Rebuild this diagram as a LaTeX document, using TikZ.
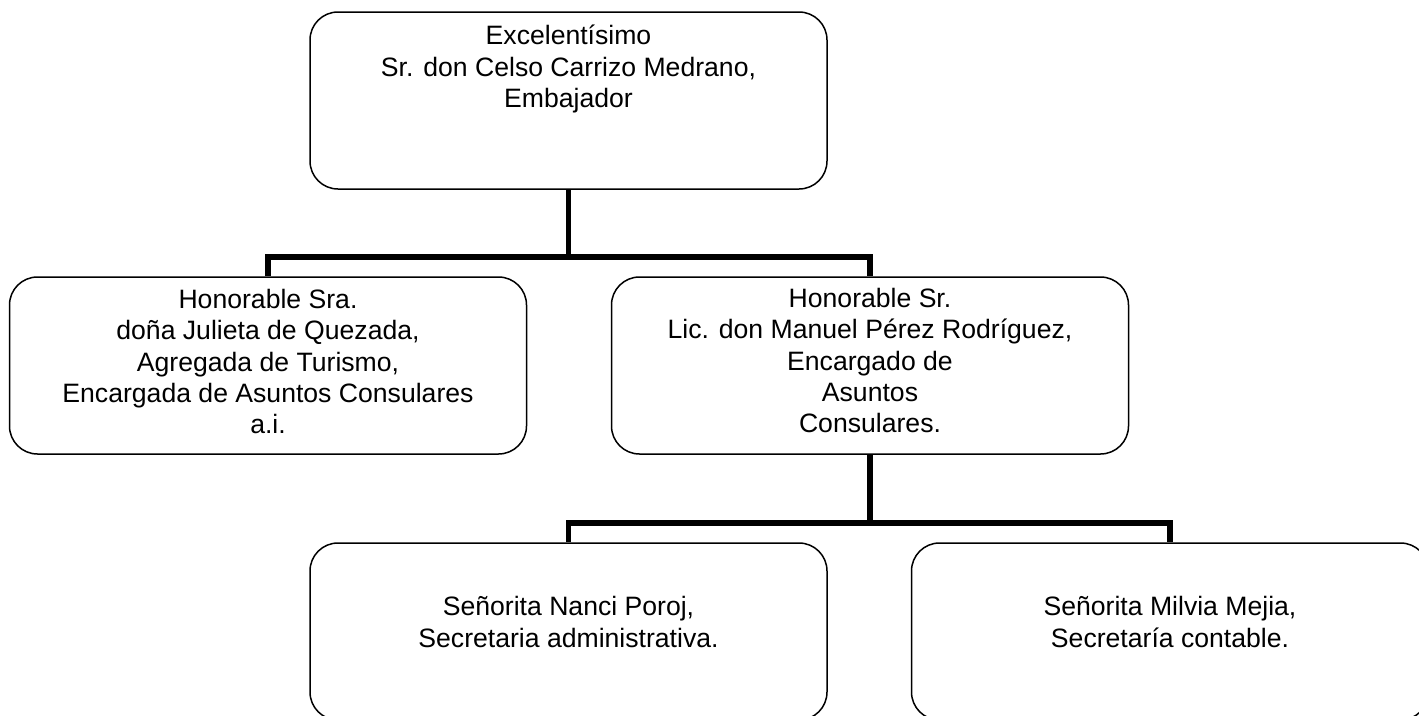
\documentclass[tikz,border=0pt]{standalone}
\usepackage{fontspec}
\setmainfont{Liberation Sans}
\begin{document}
\begin{tikzpicture}[x=1pt,y=-1pt,
  box/.style={draw,line width=1.5pt,rounded corners=28pt,minimum width=517pt,minimum height=177pt,inner sep=0pt},
  txt/.style={align=center,inner sep=0pt,font=\fontsize{26.6}{31.3}\selectfont},
  conn/.style={line width=5.5pt}]
\useasboundingbox (0,0) rectangle (1419,715);
\node[box] (top) at (568.5,100.5) {};
\node[box] (L) at (268,365.5) {};
\node[box] (R) at (870,365.5) {};
\node[box] (BL) at (568.5,631.5) {};
\node[box] (BR) at (1170,631.5) {};
\node[txt] (ttop) at (568.5,69) {Excelentísimo\\Sr. don Celso Carrizo Medrano,\\Embajador};
\node[txt] (tL) at (268,361.5) {Honorable Sra.\\doña Julieta de Quezada,\\Agregada de Turismo,\\Encargada de Asuntos Consulares\\a.i.};
\node[txt] (tR) at (870,360.5) {Honorable Sr.\\Lic. don Manuel Pérez Rodríguez,\\Encargado de\\Asuntos\\Consulares.};
\node[txt] (tBL) at (568.5,622) {Señorita Nanci Poroj,\\Secretaria administrativa.};
\node[txt] (tBR) at (1170,622) {Señorita Milvia Mejia,\\Secretaría contable.};
\coordinate (j1) at (568.5,257);
\coordinate (j2) at (870,523);
\draw[conn] (top.south) -- (j1);
\draw[conn] (L.north) |- (j1) -| (R.north);
\draw[conn] (R.south) -- (j2);
\draw[conn] (BL.north) |- (j2) -| (BR.north);
\end{tikzpicture}
\end{document}
